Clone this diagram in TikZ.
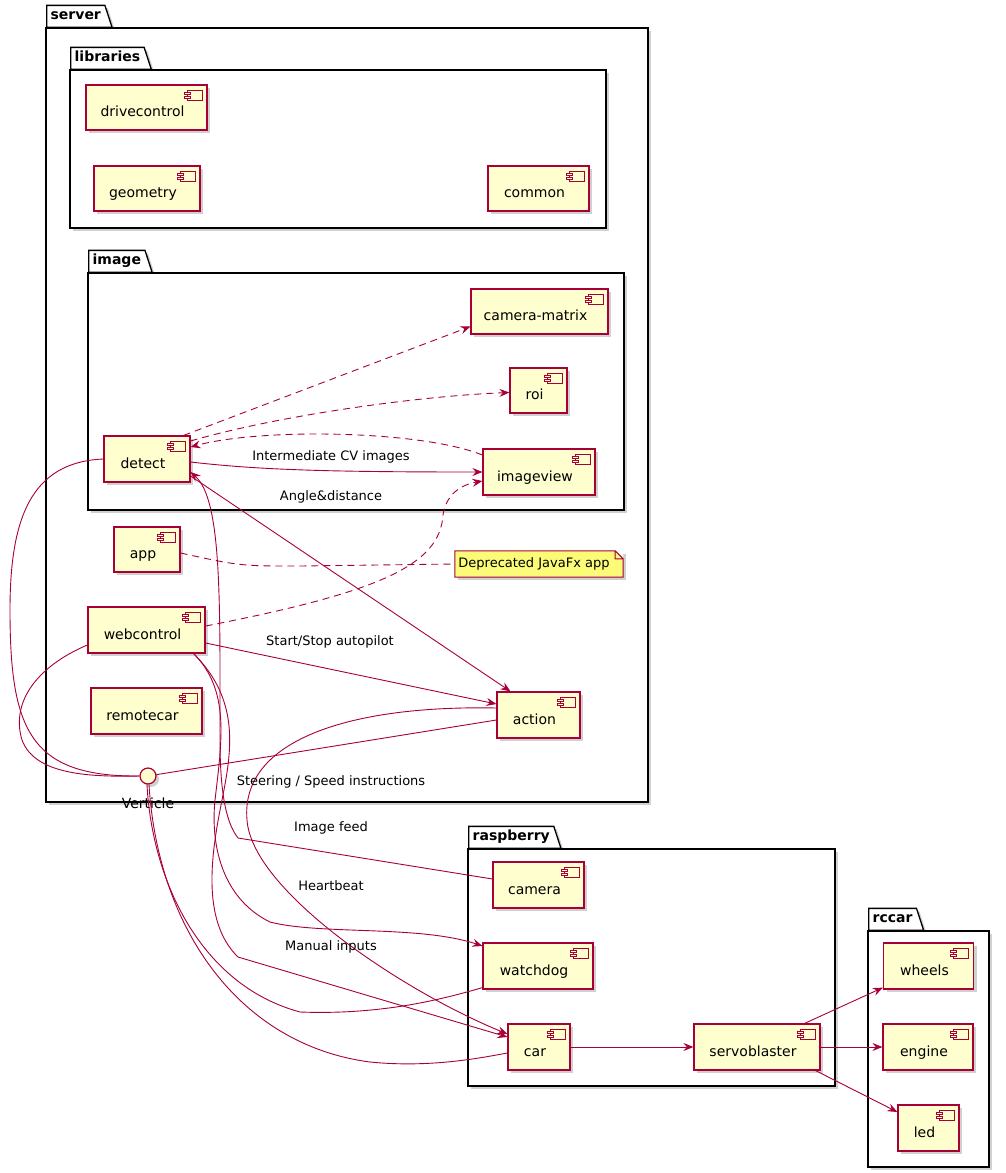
\documentclass[tikz,border=0pt]{standalone}
\usepackage{fontspec}
\setmainfont{DejaVu Sans}
\usepackage{xcolor}
\usetikzlibrary{arrows.meta, positioning, shapes.geometric, shadows}

\definecolor{umlred}{HTML}{A80036}
\definecolor{umlyellow}{HTML}{FEFECE}
\definecolor{noteyellow}{HTML}{FBFB77}

\begin{document}
\begin{tikzpicture}[x=1pt, y=-1pt,
   castshadow/.style={drop shadow={shadow xshift=3pt, shadow yshift=-3pt, opacity=0.3, fill=black!60}},
   wh/.style 2 args={minimum width=#1pt, minimum height=#2pt},
   comp/.style={draw=umlred, fill=umlyellow, line width=1.2pt, castshadow, inner sep=0pt,
     font=\fontsize{14}{16}\selectfont, text height=18pt, text depth=0pt,
     execute at end node=\hspace*{8pt},
     path picture={
       \draw[umlred, line width=0.9pt, fill=umlyellow]
         ([xshift=-20pt, yshift=-5pt]path picture bounding box.north east) rectangle
         ([xshift=-5pt, yshift=-15pt]path picture bounding box.north east);
       \foreach \dy in {-7,-11}
         \draw[umlred, line width=0.9pt, fill=umlyellow]
           ([xshift=-23pt, yshift=\dy pt]path picture bounding box.north east) rectangle ++(6pt,-2pt);
     }},
   iface/.style={circle, draw=umlred, fill=umlyellow, line width=1.2pt, minimum size=16pt, inner sep=0pt, castshadow},
   notebox/.style={fill=noteyellow, castshadow, inner sep=0pt, font=\fontsize{13}{15}\selectfont,
     execute at end node=\hspace*{10pt}},
   pkgtab/.style={draw, fill=white, line width=1.3pt, castshadow, trapezium, trapezium left angle=90,
     trapezium right angle=72, anchor=bottom left corner, inner xsep=4pt, inner ysep=4.5pt,
     text height=10pt, text depth=3pt, font=\fontsize{14}{16}\selectfont\bfseries},
   pkg/.style={draw, fill=white, line width=1.3pt, castshadow, inner sep=0pt},
   link/.style={umlred, line width=0.9pt},
   dep/.style={link, dash pattern=on 7pt off 5pt},
   toarrow/.style={-{Stealth[length=10pt, width=8pt, inset=3.5pt]}},
   lbl/.style={font=\fontsize{13}{15}\selectfont, inner sep=0pt}]

  \useasboundingbox (0,0) rectangle (1005,1173);

  % packages
  \node[pkgtab] (servertab) at (46,28) {server};
  \node[pkg, wh={602}{774}] (server) at (347,415) {};
  \node[pkgtab] (librariestab) at (70,70) {libraries};
  \node[pkg, wh={536}{158}] (libraries) at (338,149) {};
  \node[pkgtab] (imagetab) at (88,273) {image};
  \node[pkg, wh={536}{237}] (image) at (356,391.5) {};
  \node[pkgtab] (raspberrytab) at (468,849) {raspberry};
  \node[pkg, wh={367}{237}] (raspberry) at (651.5,967.5) {};
  \node[pkgtab] (rccartab) at (868,931) {rccar};
  \node[pkg, wh={121}{236}] (rccar) at (928.5,1049) {};

  % components
  \node[comp, wh={121}{45}] (drivecontrol) at (146.5,107.5) {drivecontrol};
  \node[comp, wh={106}{45}] (geometry) at (147,188.5) {geometry};
  \node[comp, wh={101}{45}] (common) at (538.5,188.5) {common};
  \node[comp, wh={137}{45}] (cammatrix) at (539.5,311.5) {camera-matrix};
  \node[comp, wh={57}{45}] (roi) at (538.5,390.5) {roi};
  \node[comp, wh={86}{46}] (detect) at (147,459) {detect};
  \node[comp, wh={112}{46}] (imageview) at (539,472) {imageview};
  \node[comp, wh={66}{45}] (app) at (147,549.5) {app};
  \node[comp, wh={117}{46}] (webcontrol) at (146.5,630) {webcontrol};
  \node[comp, wh={111}{46}] (remotecar) at (146.5,711) {remotecar};
  \node[comp, wh={83}{46}] (action) at (538.5,715) {action};
  \node[comp, wh={91}{46}] (camera) at (538.5,885) {camera};
  \node[comp, wh={110}{46}] (watchdog) at (538,966) {watchdog};
  \node[comp, wh={62}{46}] (car) at (539,1047) {car};
  \node[comp, wh={126}{46}] (servoblaster) at (757,1047) {servoblaster};
  \node[comp, wh={90}{46}] (wheels) at (928.5,966) {wheels};
  \node[comp, wh={90}{46}] (engine) at (928,1047) {engine};
  \node[comp, wh={61}{46}] (led) at (928.5,1128) {led};

  % interface and note
  \node[iface] (verticle) at (148,776) {};
  \node[font=\fontsize{14}{16}\selectfont, anchor=base, inner sep=0pt] (verticlename) at (148,808) {Verticle};
  \node[notebox, wh={168}{26}] (note) at (539,564) {Deprecated JavaFx app};
  \fill[white] ([xshift=-8pt]note.north east) -- (note.north east) -- ([yshift=-8pt]note.north east) -- cycle;
  \draw[umlred, line width=1pt] (note.south west) -- (note.north west) -- ([xshift=-8pt]note.north east)
    -- ([yshift=-8pt]note.north east) -- (note.south east) -- cycle
    ([xshift=-8pt]note.north east) |- ([yshift=-8pt]note.north east);

  % image internals
  \draw[dep, toarrow] ([xshift=-7pt]detect.north east) -- ([yshift=-15pt]cammatrix.west);
  \draw[dep, toarrow] ([yshift=18pt]detect.east) .. controls (280,415) and (420,396) .. ([yshift=-2pt]roi.west);
  \draw[dep, toarrow] ([yshift=17pt]imageview.west) .. controls (420,430) and (260,428) .. ([yshift=12pt]detect.east);
  \draw[link, toarrow] ([yshift=-3pt]detect.east) .. controls (260,470) and (330,472) .. (imageview.west);
  \draw[link, toarrow] ([yshift=-17pt]detect.east) -- ([xshift=-28pt]action.north);
  \draw[dep, toarrow] ([yshift=4pt]webcontrol.east) .. controls (380,592) and (440,565) .. (443,515)
    .. controls (446,495) and (460,485) .. ([yshift=-9pt]imageview.west);
  \draw[dep] ([yshift=-3.5pt]app.east) .. controls (240,566) .. (300,566) -- (note.west);
  \draw[link, toarrow] ([yshift=-13pt]webcontrol.east) -- ([yshift=11pt]action.west);

  % server to raspberry
  \draw[link, toarrow] ([yshift=7pt]action.west) .. controls (350,705) and (240,740) .. (247,820)
    .. controls (252,890) and (400,990) .. ([yshift=13pt]car.west);
  \draw[link] ([yshift=-5pt]action.west) -- (verticle);
  \draw[link, toarrow] ([yshift=6pt]camera.west) -- (238,838) .. controls (228,825) and (220,800) .. (220,740)
    .. controls (220,600) and (222,500) .. ([yshift=-13pt]detect.east);
  \draw[link, toarrow] ([xshift=-12pt]webcontrol.south east) .. controls (230,690) and (222,740) .. (215,800)
    .. controls (210,850) and (225,900) .. (270,922) .. controls (320,935) and (420,925) .. ([yshift=20pt]watchdog.west);
  \draw[link, toarrow] ([xshift=-12pt]webcontrol.south east) .. controls (240,700) and (232,750) .. (222,800)
    .. controls (212,850) and (200,920) .. (238,957) -- ([yshift=10pt]car.west);

  % interface links
  \draw[link] (detect.west) .. controls (30,462) and (10,520) .. (10,610)
    .. controls (10,730) and (30,777) .. (verticle.west);
  \draw[link] ([yshift=-15pt]webcontrol.west) .. controls (40,665) and (10,700) .. (22,740)
    .. controls (35,775) and (90,777) .. (verticle.west);
  \draw[link] ([xshift=-1pt]verticle.south) .. controls (152,880) and (200,985) .. (300,1012)
    .. controls (380,1015) and (440,1000) .. ([yshift=2pt]watchdog.south west);
  \draw[link] ([xshift=1pt]verticle.south) .. controls (158,930) and (240,1045) .. (370,1062)
    .. controls (430,1068) and (480,1058) .. ([yshift=-6pt]car.west);

  % raspberry to rccar
  \draw[link, toarrow] (car.east) -- (servoblaster.west);
  \draw[link, toarrow] ([xshift=-16pt]servoblaster.north east) -- ([yshift=2pt]wheels.south west);
  \draw[link, toarrow] (servoblaster.east) -- (engine.west);
  \draw[link, toarrow] ([xshift=-5pt]servoblaster.south east) -- ([yshift=16pt]led.west);

  % edge labels
  \node[lbl] (cvlabel) at (331,457) {Intermediate CV images};
  \node[lbl] (anglelabel) at (331,497) {Angle\&distance};
  \node[lbl] (autopilotlabel) at (330,642) {Start/Stop autopilot};
  \node[lbl] (steeringlabel) at (331,782) {Steering / Speed instructions};
  \node[lbl] (feedlabel) at (331,828) {Image feed};
  \node[lbl] (heartbeatlabel) at (331,886) {Heartbeat};
  \node[lbl] (manuallabel) at (331,947) {Manual inputs};
\end{tikzpicture}
\end{document}
